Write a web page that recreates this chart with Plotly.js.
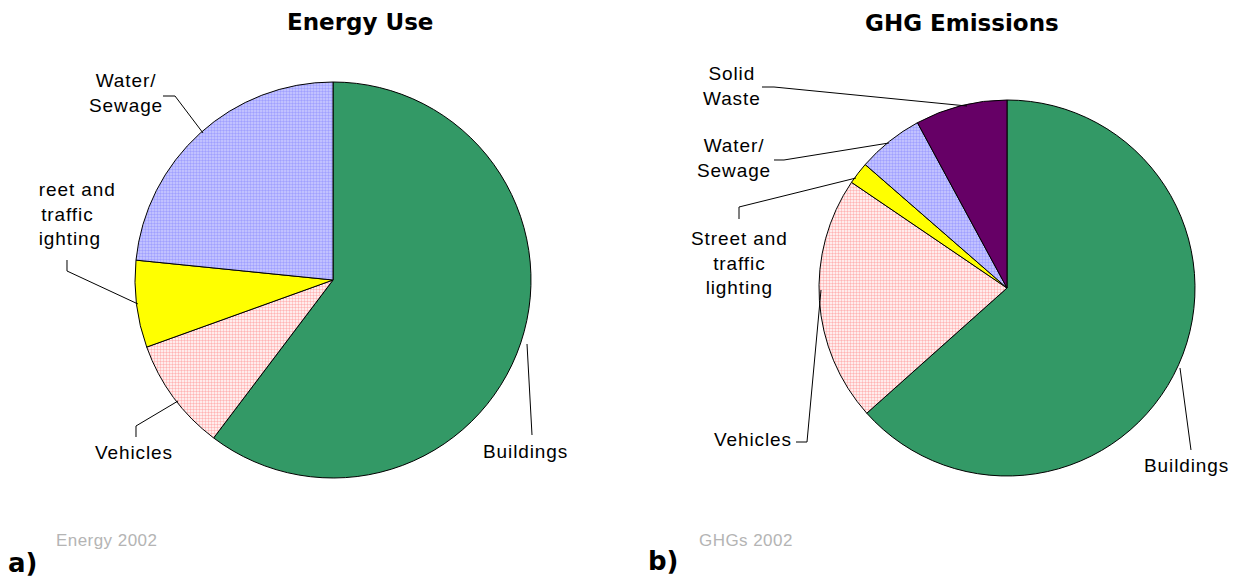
<!DOCTYPE html>
<html>
<head>
<meta charset="utf-8">
<script src="https://cdn.plot.ly/plotly-3.0.1.min.js"></script>
<style>
html,body{margin:0;padding:0;background:#fff;}
#chart{width:1234px;height:580px;}
text.annotation-text[style*="Liberation"]{letter-spacing:0.9px;}
text.annotation-text[style*="Liberation"][style*="180, 180"]{letter-spacing:0.45px;}
</style>
</head>
<body>
<div id="chart"></div>
<script>
// ---- data ----
const energyLabels = ["Buildings", "Vehicles", "Street and traffic lighting", "Water/ Sewage"];
const energyValues = [60.3, 9.2, 7.1, 23.4];
const ghgLabels = ["Buildings", "Vehicles", "Street and traffic lighting", "Water/ Sewage", "Solid Waste"];
const ghgValues = [63.4, 21.1, 1.9, 5.7, 7.9];
const titles = ["Energy Use", "GHG Emissions"];
const captions = ["Energy 2002", "GHGs 2002"];
const panelTags = ["a)", "b)"];

// ---- styles ----
const W = 1234, H = 580;
const fillColors = {
  "Buildings": "#339966",
  "Vehicles": "#ffffff",
  "Street and traffic lighting": "#ffff00",
  "Water/ Sewage": "#cdcdff",
  "Solid Waste": "#660066"
};
const dotColors = {
  "Buildings": "#339966",
  "Vehicles": "#ffb4b4",
  "Street and traffic lighting": "#ffff00",
  "Water/ Sewage": "#a0a0ff",
  "Solid Waste": "#660066"
};
const dotted = {"Vehicles": true, "Water/ Sewage": true};

function pieTrace(labels, values, dom) {
  return {
    type: "pie",
    labels: labels,
    values: values,
    sort: false,
    direction: "clockwise",
    rotation: 0,
    textinfo: "none",
    hoverinfo: "label+percent",
    showlegend: false,
    domain: dom,
    marker: {
      colors: labels.map(l => fillColors[l]),
      line: {color: "#000000", width: 1},
      pattern: {
        shape: labels.map(l => dotted[l] ? "." : ""),
        fgcolor: labels.map(l => dotColors[l]),
        bgcolor: labels.map(l => fillColors[l]),
        size: 3,
        solidity: 0.5,
        fillmode: "replace"
      }
    }
  };
}

const px = (x, y) => [x / W, 1 - y / H];
function polyline(pts) {
  const d = pts.map((p, i) => {
    const q = px(p[0], p[1]);
    return (i ? "L" : "M") + q[0].toFixed(5) + "," + q[1].toFixed(5);
  }).join(" ");
  return {type: "path", xref: "paper", yref: "paper", path: d,
          line: {color: "#000000", width: 1}, layer: "above"};
}

const labelFont = {family: "Liberation Sans, Arial, sans-serif", size: 19, color: "#000000"};
function label(text, x, y) {
  const q = px(x, y);
  return {xref: "paper", yref: "paper", x: q[0], y: q[1], text: text,
          showarrow: false, xanchor: "center", yanchor: "middle",
          align: "center", font: labelFont};
}
const boldFont = s => ({family: "DejaVu Sans, sans-serif", size: s, color: "#000000"});
const capFont = {family: "Liberation Sans, Arial, sans-serif", size: 17, color: "#b4b4b4"};

const annotations = [
  // titles
  Object.assign(label("<b>" + titles[0] + "</b>", 360, 22), {font: boldFont(23)}),
  Object.assign(label("<b>" + titles[1] + "</b>", 962, 23), {font: boldFont(23)}),
  // captions
  Object.assign(label(captions[0], 106, 540), {font: capFont}),
  Object.assign(label(captions[1], 746, 540), {font: capFont}),
  // panel tags
  Object.assign(label("<b>" + panelTags[0] + "</b>", 22, 563), {font: boldFont(26)}),
  Object.assign(label("<b>" + panelTags[1] + "</b>", 663, 561), {font: boldFont(26)}),
  // left pie labels
  label("Water/<br>Sewage", 126, 93),
  label("Street and<br>traffic<br>lighting", 67, 214),
  label("Vehicles", 134, 452),
  label("Buildings", 525, 451),
  // right pie labels
  label("Solid<br>Waste", 732, 86),
  label("Water/<br>Sewage", 734, 158),
  label("Street and<br>traffic<br>lighting", 739, 263),
  label("Vehicles", 753, 439),
  label("Buildings", 1186, 465),
  // left clip mask (the reference crops the left edge of the label)
  {xref: "paper", yref: "paper", x: 0, y: 1 - 165 / H, xanchor: "left", yanchor: "top",
   text: " ", showarrow: false, width: 38, height: 95, bgcolor: "#ffffff", borderpad: 0, borderwidth: 0}
];

const shapes = [
  polyline([[163, 96], [175, 96], [203, 133]]),
  polyline([[67, 260], [67, 271], [138, 304]]),
  polyline([[136, 437], [136, 426], [178, 401]]),
  polyline([[532, 435], [527, 344]]),
  polyline([[762, 87], [774, 87], [967, 106]]),
  polyline([[774, 160], [784, 160], [889, 143]]),
  polyline([[739, 219], [739, 207], [856, 178]]),
  polyline([[796, 442], [807, 442], [821, 290]]),
  polyline([[1191, 450], [1180, 368]])
];

const data = [
  pieTrace(energyLabels, energyValues, {x: [135 / W, 531 / W], y: [1 - 478 / H, 1 - 82 / H]}),
  pieTrace(ghgLabels, ghgValues, {x: [819 / W, 1195 / W], y: [1 - 476 / H, 1 - 100 / H]})
];

const layout = {
  width: W, height: H,
  margin: {l: 0, r: 0, t: 0, b: 0},
  paper_bgcolor: "#ffffff",
  plot_bgcolor: "#ffffff",
  showlegend: false,
  annotations: annotations,
  shapes: shapes
};

Plotly.newPlot("chart", data, layout, {displayModeBar: false});
</script>
</body>
</html>
